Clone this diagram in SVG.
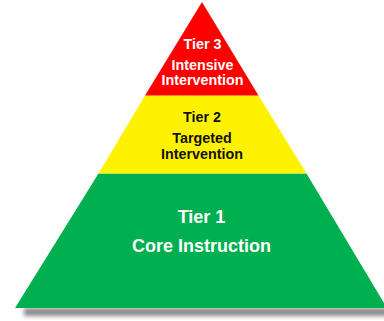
<svg xmlns="http://www.w3.org/2000/svg" width="384" height="321" viewBox="0 0 384 321">
  <defs>
    <filter id="blur" x="-10%" y="-100%" width="120%" height="300%">
      <feGaussianBlur stdDeviation="2.2"/>
    </filter>
  </defs>
  <style>
    text { font-family: "Liberation Sans", Arial, sans-serif; font-weight: bold; text-anchor: middle; }
    .small { font-size: 14.3px; }
    .big { font-size: 18px; }
    .w { fill: #ffffff; }
    .k { fill: #111111; }
  </style>
  <rect width="384" height="321" fill="#ffffff"/>
  <rect x="24" y="308" width="370" height="8" fill="#8a8a8a" filter="url(#blur)"/>
  <g id="tier1">
    <polygon points="98.5,173.5 306.5,173.5 387,308 15,308" fill="#00b050"/>
    <text class="big w" x="201.5" y="223">Tier 1</text>
    <text class="big w" x="201.5" y="251.5">Core Instruction</text>
  </g>
  <g id="tier2">
    <polygon points="145,95.5 258.5,95.5 306.5,173.5 98.5,173.5" fill="#fff200"/>
    <text class="small k" x="202" y="122.3">Tier 2</text>
    <text class="small k" x="202" y="142.7">Targeted</text>
    <text class="small k" x="202" y="159.3">Intervention</text>
  </g>
  <g id="tier3">
    <polygon points="202,2 258.5,95.5 145,95.5" fill="#ff0000"/>
    <text class="small w" x="202.5" y="48.7">Tier 3</text>
    <text class="small w" x="202.5" y="69.7">Intensive</text>
    <text class="small w" x="202.5" y="85.3">Intervention</text>
  </g>
  <g id="connectors"/>
</svg>
